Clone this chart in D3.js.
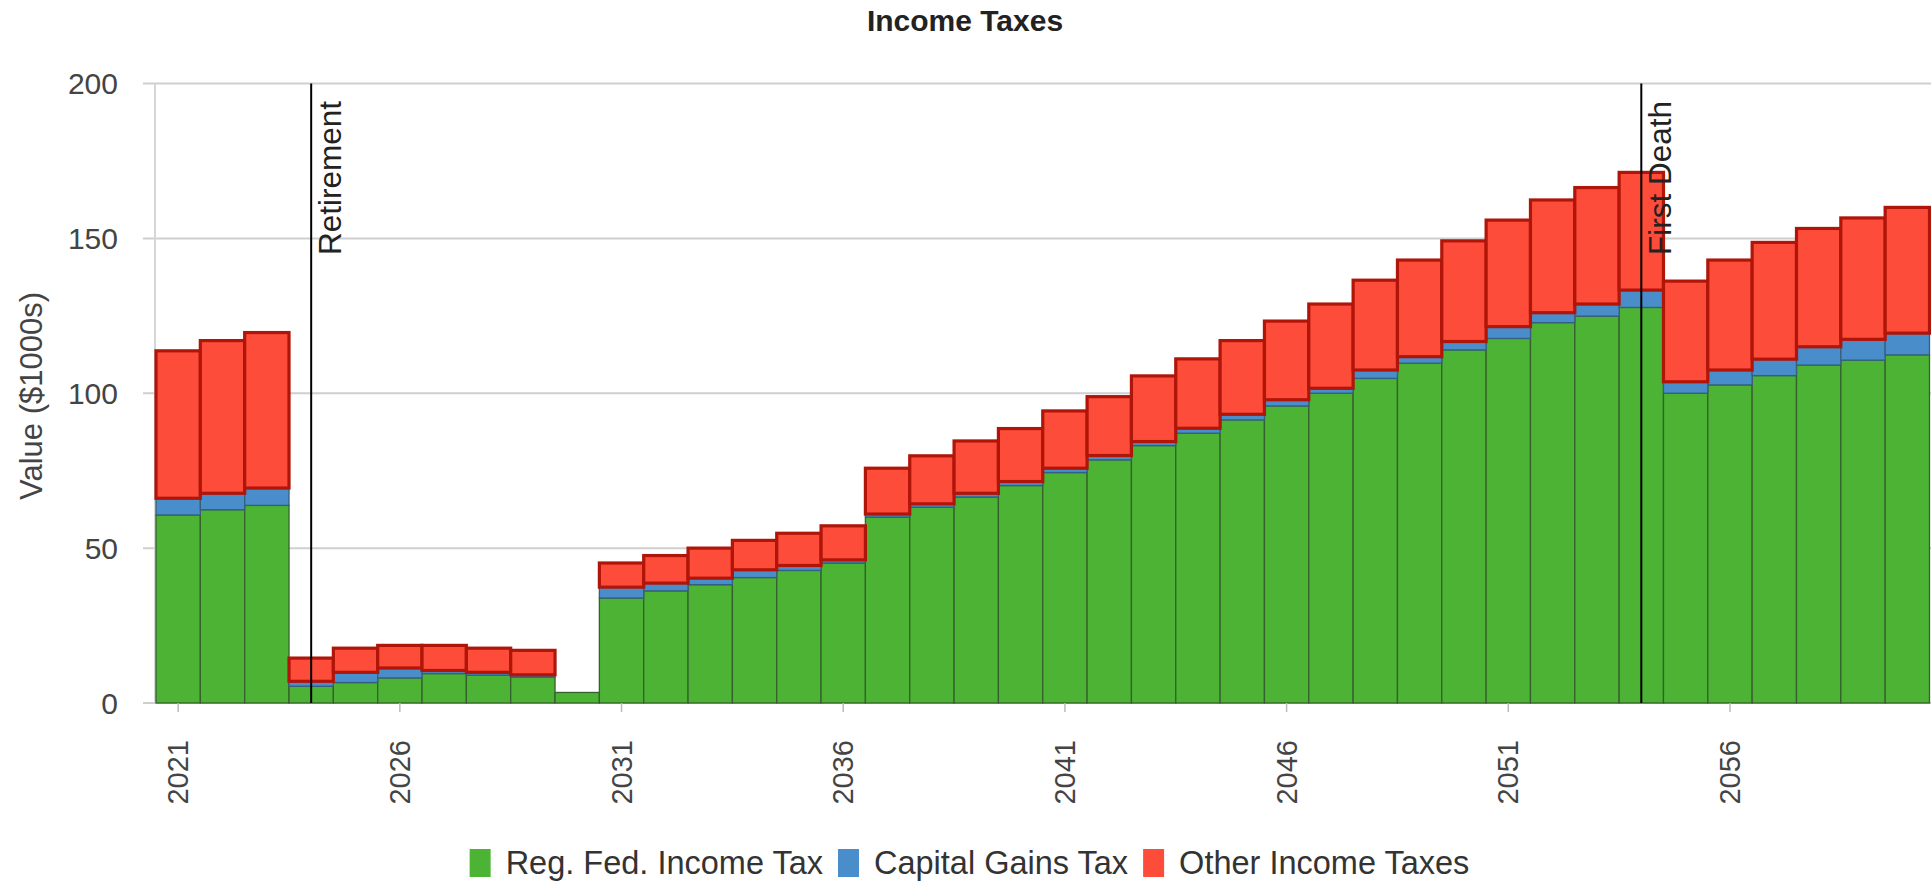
<!DOCTYPE html>
<html>
<head>
<meta charset="utf-8">
<script src="https://cdn.jsdelivr.net/npm/d3@7"></script>
<style>
  html, body { margin: 0; padding: 0; background: #fff; }
  svg { display: block; }
  text { font-family: "Liberation Sans", Arial, sans-serif; }
</style>
</head>
<body>
<svg id="chart" width="1931" height="882"></svg>
<script>
// Projection years and tax components ($1000s)
const years = d3.range(2021, 2061);
const regFedIncomeTax = [
  60.7, 62.4, 63.8, 5.4, 6.6, 8.1, 9.5, 9.0, 8.4, 3.4,
  33.9, 36.2, 38.2, 40.5, 42.8, 45.2, 60.0, 63.2, 66.5, 70.2,
  74.4, 78.5, 83.1, 87.1, 91.4, 95.9, 100.0, 104.8, 109.7, 114.0,
  117.7, 122.8, 124.9, 127.7, 100.0, 102.7, 105.7, 109.1, 110.7, 112.4
];
const capitalGainsTax = [
  5.4, 5.3, 5.6, 1.6, 3.3, 3.2, 1.0, 0.9, 0.7, 0,
  3.5, 2.5, 2.1, 2.5, 1.6, 1.0, 1.0, 1.1, 1.2, 1.3,
  1.4, 1.4, 1.3, 1.6, 1.8, 2.0, 1.6, 2.7, 2.1, 2.7,
  3.8, 3.2, 3.9, 5.6, 3.7, 4.8, 5.3, 5.9, 6.7, 7.0
];
const otherIncomeTaxes = [
  47.6, 49.3, 50.2, 7.5, 7.8, 7.3, 8.1, 7.8, 7.9, 0,
  7.8, 8.9, 9.7, 9.5, 10.4, 11.0, 14.8, 15.5, 16.9, 17.1,
  18.5, 19.0, 21.2, 22.4, 23.8, 25.4, 27.2, 29.0, 31.2, 32.5,
  34.4, 36.4, 37.6, 38.0, 32.5, 35.5, 37.7, 38.2, 39.2, 40.6
];
const seriesNames = ["Reg. Fed. Income Tax", "Capital Gains Tax", "Other Income Taxes"];
const yTicks = [0, 50, 100, 150, 200];
const xTickYears = [2021, 2026, 2031, 2036, 2041, 2046, 2051, 2056];
const events = [
  { year: 2024, label: "Retirement" },
  { year: 2054, label: "First Death" }
];

const fills = ["#4cb334", "#4a8dcb", "#fd4c3a"];
const strokes = ["#35612c", "#34607f", "#b0150a"];
const strokeWidths = [1.3, 1.3, 3.2];

const svg = d3.select("#chart");
const plot = { left: 155, right: 1931, top: 83.5, bottom: 703 };

const x = d3.scaleBand().domain(years).range([156, 1929.5]).padding(0);
const y = d3.scaleLinear().domain([0, 200]).range([plot.bottom, plot.top]);

// Title
svg.append("text")
  .attr("x", 965).attr("y", 31)
  .attr("text-anchor", "middle")
  .attr("font-size", 30).attr("font-weight", "bold")
  .attr("fill", "#222")
  .text("Income Taxes");

// Horizontal gridlines
svg.append("g").selectAll("line").data(yTicks).join("line")
  .attr("x1", 143).attr("x2", plot.right)
  .attr("y1", d => y(d)).attr("y2", d => y(d))
  .attr("stroke", "#cfcfcf").attr("stroke-width", 2);

// Left plot border
svg.append("line")
  .attr("x1", plot.left).attr("x2", plot.left)
  .attr("y1", plot.top).attr("y2", plot.bottom)
  .attr("stroke", "#d6d6d6").attr("stroke-width", 2);

// Y tick labels
svg.append("g").selectAll("text").data(yTicks).join("text")
  .attr("x", 118).attr("y", d => y(d))
  .attr("dy", "0.35em")
  .attr("text-anchor", "end")
  .attr("font-size", 30).attr("fill", "#444")
  .text(d => d);

// Y axis title
svg.append("text")
  .attr("transform", "translate(31,396) rotate(-90)")
  .attr("dy", "0.35em")
  .attr("text-anchor", "middle")
  .attr("font-size", 31).attr("fill", "#444")
  .text("Value ($1000s)");

// Stacked columns
const rows = years.map((yr, i) => ({
  year: yr,
  s0: regFedIncomeTax[i],
  s1: capitalGainsTax[i],
  s2: otherIncomeTaxes[i]
}));
const stacked = d3.stack().keys(["s0", "s1", "s2"])(rows);

svg.append("g").selectAll("g").data(stacked).join("g")
  .attr("fill", (d, i) => fills[i])
  .attr("stroke", (d, i) => strokes[i])
  .attr("stroke-width", (d, i) => strokeWidths[i])
  .selectAll("rect")
  .data(d => d.filter(p => p[1] - p[0] > 0))
  .join("rect")
  .attr("x", d => x(d.data.year))
  .attr("width", x.bandwidth())
  .attr("y", d => y(d[1]))
  .attr("height", d => y(d[0]) - y(d[1]));

// X ticks and labels
const xt = svg.append("g");
xt.selectAll("line").data(xTickYears).join("line")
  .attr("x1", d => x(d) + x.bandwidth() / 2)
  .attr("x2", d => x(d) + x.bandwidth() / 2)
  .attr("y1", plot.bottom).attr("y2", plot.bottom + 9)
  .attr("stroke", "#bbb").attr("stroke-width", 1.5);
xt.selectAll("text").data(xTickYears).join("text")
  .attr("transform", d => `translate(${x(d) + x.bandwidth() / 2},740) rotate(-90)`)
  .attr("dy", "0.35em")
  .attr("text-anchor", "end")
  .attr("font-size", 29).attr("fill", "#444")
  .text(d => d);

// Event marker lines
const ev = svg.append("g");
ev.selectAll("line").data(events).join("line")
  .attr("x1", d => x(d.year) + x.bandwidth() / 2)
  .attr("x2", d => x(d.year) + x.bandwidth() / 2)
  .attr("y1", plot.top).attr("y2", plot.bottom)
  .attr("stroke", "#000").attr("stroke-width", 2);
ev.selectAll("text").data(events).join("text")
  .attr("transform", d => `translate(${x(d.year) + x.bandwidth() / 2 + 30},101) rotate(-90)`)
  .attr("text-anchor", "end")
  .attr("font-family", "'Open Sans', sans-serif")
  .attr("font-size", 31.5).attr("fill", "#222")
  .text(d => d.label);

// Legend
const legend = svg.append("g");
let cursor = 0;
seriesNames.forEach((name, i) => {
  const item = legend.append("g").attr("transform", `translate(${cursor},0)`);
  item.append("rect")
    .attr("x", 0).attr("y", -14).attr("width", 21).attr("height", 28)
    .attr("fill", fills[i]);
  const t = item.append("text")
    .attr("x", 36).attr("y", 0).attr("dy", "0.35em")
    .attr("font-size", 32.5).attr("fill", "#333")
    .text(name);
  cursor += 36 + t.node().getComputedTextLength() + 15;
});
const legendWidth = cursor - 15;
legend.attr("transform", `translate(${969.5 - legendWidth / 2},863)`);
</script>
</body>
</html>
